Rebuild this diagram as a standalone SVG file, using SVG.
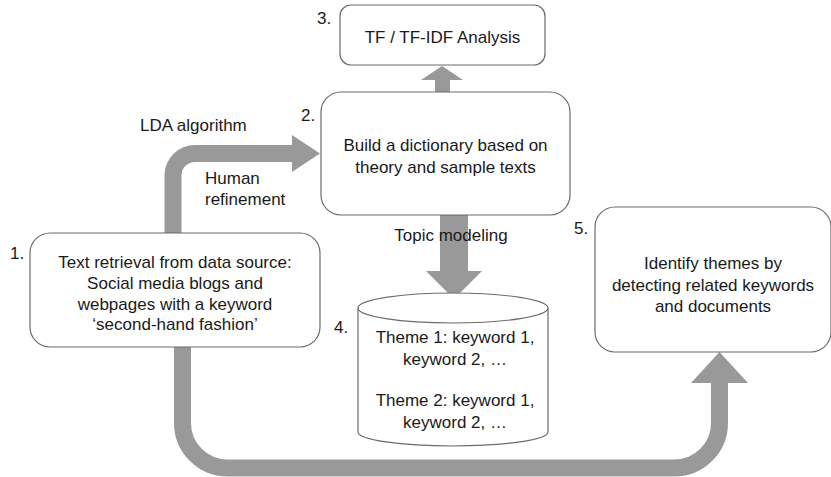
<svg xmlns="http://www.w3.org/2000/svg" width="831" height="477" viewBox="0 0 831 477">
<style>
.box{fill:#fff;stroke:#6b6b6b;stroke-width:1.2}
.t{font-family:"Liberation Sans",Arial,sans-serif;font-size:17px;fill:#1a1a1a;text-anchor:middle}
.l{font-family:"Liberation Sans",Arial,sans-serif;font-size:17px;fill:#1a1a1a}
.shaft{fill:none;stroke:#999;}
.head{fill:#999}
</style>
<rect width="831" height="477" fill="#fff"/>
<g id="connectors">
  <path class="shaft" stroke-width="17" d="M173 234 V175 A22 22 0 0 1 195 153.5 H293"/>
  <polygon class="head" points="292,135 320,153.5 292,172"/>
  <path class="shaft" stroke-width="15" d="M442.5 92 V79"/>
  <polygon class="head" points="421,80 442,66 463,80"/>
  <path class="shaft" stroke-width="28" d="M454 215 V272"/>
  <polygon class="head" points="426,271 454,299 482,271"/>
  <path class="shaft" stroke-width="17" d="M182.5 346 V423 A45 45 0 0 0 227.5 468 H674.5 A45 45 0 0 0 719.5 423 V382"/>
  <polygon class="head" points="691,383 719.5,352 748,383"/>
</g>
<g id="node3">
  <rect class="box" x="340" y="5" width="205" height="60" rx="11"/>
  <text class="t" x="442.5" y="43">TF / TF-IDF Analysis</text>
  <text class="l" x="317" y="24">3.</text>
</g>
<g id="node2">
  <rect class="box" x="321" y="92" width="249" height="123" rx="20"/>
  <text class="t" x="445.5" y="151">Build a dictionary based on</text>
  <text class="t" x="445.5" y="173">theory and sample texts</text>
  <text class="l" x="301" y="121">2.</text>
</g>
<g id="node1">
  <rect class="box" x="30" y="233" width="290" height="114" rx="20"/>
  <text class="t" x="175" y="268">Text retrieval from data source:</text>
  <text class="t" x="175" y="289">Social media blogs and</text>
  <text class="t" x="175" y="310">webpages with a keyword</text>
  <text class="t" x="175" y="330">‘second-hand fashion’</text>
  <text class="l" x="10" y="259">1.</text>
</g>
<g id="node4">
  <path class="box" d="M358 308 V432 A95 14 0 0 0 548 432 V308"/>
  <ellipse class="box" cx="453" cy="308" rx="95" ry="15"/>
  <text class="t" x="455" y="343">Theme 1: keyword 1,</text>
  <text class="t" x="455" y="365">keyword 2, …</text>
  <text class="t" x="455" y="406">Theme 2: keyword 1,</text>
  <text class="t" x="455" y="428">keyword 2, …</text>
  <text class="l" x="334" y="333">4.</text>
</g>
<g id="node5">
  <rect class="box" x="595" y="207" width="236" height="145" rx="20"/>
  <text class="t" x="713" y="269">Identify themes by</text>
  <text class="t" x="713" y="291">detecting related keywords</text>
  <text class="t" x="713" y="312">and documents</text>
  <text class="l" x="574" y="234">5.</text>
</g>
<g id="labels">
  <text class="l" x="140" y="131">LDA algorithm</text>
  <text class="l" x="205" y="184">Human</text>
  <text class="l" x="205" y="205">refinement</text>
  <text class="t" x="451" y="241">Topic modeling</text>
</g>
</svg>
